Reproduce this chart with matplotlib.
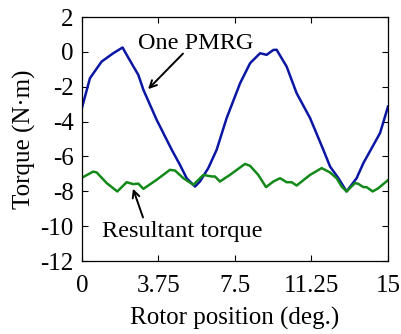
import matplotlib
matplotlib.use("Agg")
import matplotlib.pyplot as plt

# Data
blue_x = [0.0, 0.39, 0.96, 1.53, 1.99, 2.19, 2.52, 2.76, 3.01, 3.66, 4.4, 4.8, 5.13, 5.54,
          5.78, 6.19, 6.6, 7.09, 7.75, 8.24, 8.73, 9.05, 9.38, 9.54, 10.03, 10.52, 11.18,
          11.83, 12.16, 12.57, 12.97, 13.46, 13.79, 14.61, 15.0]
blue_y = [-3.2, -1.51, -0.56, -0.08, 0.25, -0.17, -0.84, -1.32, -2.18, -3.9, -5.62, -6.48,
          -7.25, -7.73, -7.44, -6.67, -5.62, -3.8, -1.8, -0.65, -0.08, -0.17, 0.11, 0.12,
          -0.84, -2.37, -3.8, -5.62, -6.58, -7.25, -8.01, -7.25, -6.39, -4.66, -3.14]

green_x = [0.0, 0.55, 0.72, 1.21, 1.73, 2.19, 2.52, 2.76, 3.01, 3.66, 4.31, 4.56, 4.97, 5.46,
           5.95, 6.36, 6.52, 6.76, 7.25, 7.99, 8.24, 8.64, 9.02, 9.38, 9.71, 10.03, 10.28,
           10.52, 11.18, 11.75, 12.16, 12.48, 12.73, 12.97, 13.38, 13.54, 13.79, 13.95,
           14.25, 14.53, 15.0]
green_y = [-7.22, -6.87, -6.92, -7.53, -8.01, -7.48, -7.59, -7.56, -7.86, -7.34, -6.77, -6.81,
           -7.25, -7.63, -7.06, -7.15, -7.15, -7.44, -7.06, -6.43, -6.54, -7.06, -7.76, -7.44,
           -7.25, -7.48, -7.48, -7.67, -7.06, -6.67, -6.92, -7.25, -7.73, -8.01, -7.53, -7.57,
           -7.76, -7.76, -8.01, -7.82, -7.36]

x_ticks = [0, 3.75, 7.5, 11.25, 15]
x_tick_labels = ["0", "3.75", "7.5", "11.25", "15"]
y_ticks = [2, 0, -2, -4, -6, -8, -10, -12]

plt.rcParams['font.family'] = ['Liberation Serif', 'DejaVu Serif']
plt.rcParams['axes.unicode_minus'] = False

fig = plt.figure(figsize=(4.02, 3.34), dpi=100)
ax = fig.add_axes([82/402, 1-261/334, 306/402, 244/334])

ax.plot(blue_x, blue_y, color='#0b16a3', lw=1.8)
ax.plot(green_x, green_y, color='#13891a', lw=1.8)

ax.set_xlim(0, 15)
ax.set_ylim(-12, 2)
ax.set_xticks(x_ticks)
ax.set_xticklabels(x_tick_labels)
ax.set_yticks(y_ticks)
ax.tick_params(direction='in', top=True, right=True, labelsize=18, length=4, width=0.8)
ax.tick_params(axis='x', pad=10)
ax.tick_params(axis='y', pad=6)
for s in ax.spines.values():
    s.set_linewidth(0.9)

ax.set_xlabel('Rotor position (deg.)', fontsize=18, labelpad=7)
ax.set_ylabel('Torque (N\u00b7m)', fontsize=18, labelpad=3)

arrow_kw = dict(arrowstyle='->,head_length=0.5,head_width=0.25', color='black', lw=1.4,
                shrinkA=0, shrinkB=0)
ax.text(5.55, 0.5, 'One PMRG', fontsize=17.5, ha='center', va='center')
ax.annotate('', xy=(3.24, -2.14), xytext=(4.95, -0.1), arrowprops=arrow_kw)
ax.text(4.9, -10.3, 'Resultant torque', fontsize=17.5, ha='center', va='center')
ax.annotate('', xy=(2.5, -7.85), xytext=(2.99, -9.5), arrowprops=arrow_kw)

fig.savefig('out.png', dpi=100)
